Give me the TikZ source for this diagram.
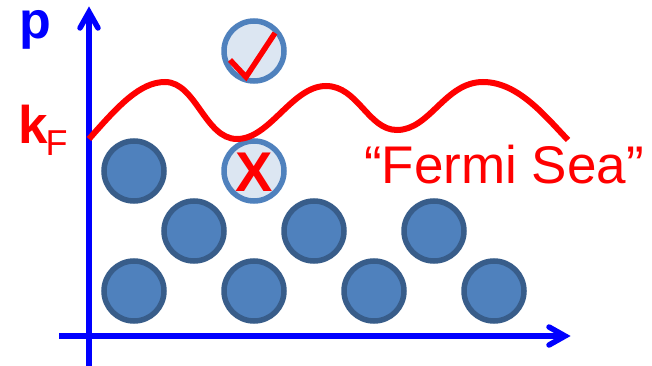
\documentclass[tikz,border=0pt]{standalone}
\usepackage{fontspec}
\setmainfont{Liberation Sans}
\definecolor{fillblue}{HTML}{4F81BD}
\definecolor{edgedark}{HTML}{385D8A}
\definecolor{paleblue}{HTML}{DCE6F2}
\definecolor{axisblue}{HTML}{0000FF}
\definecolor{seared}{HTML}{FF0000}
\tikzset{
  particle/.style={circle,draw=edgedark,fill=fillblue,line width=5.5pt,minimum size=60pt,inner sep=0pt},
  hole/.style={circle,draw=fillblue,fill=paleblue,line width=5.5pt,minimum size=60pt,inner sep=0pt},
  axisline/.style={draw=axisblue,line width=5.5pt},
  axistip/.style={draw=axisblue,line width=5.5pt,line cap=round,line join=miter},
  seaedge/.style={draw=seared,line width=6pt},
  lbl/.style={inner sep=0pt,outer sep=0pt},
}
\begin{document}
\begin{tikzpicture}[x=1pt,y=-1pt]
\useasboundingbox (0,0) rectangle (652,366);
\foreach \n/\x/\y in {a/134/291,b/254/291,c/374/291,d/494/291,e/194/231,f/314/231,g/434/231,h/134/171}
  \node[particle] (\n) at (\x,\y) {};
\node[hole] (empty) at (254,171) {};
\node[hole] (excited) at (254,51) {};
% axes
\coordinate (ybot) at (89,366);
\coordinate (ytop) at (89,12);
\coordinate (xleft) at (59,336);
\coordinate (xright) at (565,336);
\draw[axisline] (ybot) -- (ytop);
\draw[axisline] (xleft) -- (xright);
\coordinate (ytipl) at (80,28);
\coordinate (ytipr) at (98,28);
\coordinate (xtipu) at (549,327);
\coordinate (xtipd) at (549,345);
\draw[axistip] (ytipl) -- (ytop) -- (ytipr);
\draw[axistip] (xtipu) -- (xright) -- (xtipd);
% Fermi surface
\coordinate (s0) at (89,139);
\coordinate (s1) at (165,82);
\coordinate (s2) at (237,139);
\coordinate (s3) at (326,86);
\coordinate (s4) at (397,130);
\coordinate (s5) at (483,82);
\coordinate (s6) at (568,140);
\draw[seaedge] (s0) .. controls (118,106) and (140,82) .. (s1)
  .. controls (196,82) and (205,139) .. (s2)
  .. controls (270,139) and (292,86) .. (s3)
  .. controls (358,86) and (368,130) .. (s4)
  .. controls (430,130) and (445,82) .. (s5)
  .. controls (518,82) and (545,116) .. (s6);
% check mark
\coordinate (c1) at (230,60);
\coordinate (c2) at (246,77);
\coordinate (c3) at (275,33);
\draw[seared,line width=5.5pt] (c1) -- (c2) -- (c3);
% labels
\node[lbl,anchor=base west,text=axisblue] (plabel) at (19,39) {\fontsize{52}{52}\selectfont\bfseries p};
\node[lbl,anchor=base west,text=seared] (klabel) at (18,143) {\fontsize{53}{53}\selectfont\bfseries k};
\node[lbl,anchor=base west,text=seared] (flabel) at (45.5,156) {\fontsize{36}{36}\selectfont F};
\node[lbl,anchor=base,text=seared] (xmark) at (254,191) {\fontsize{56}{56}\selectfont\bfseries X};
\node[lbl,anchor=base,text=seared] (sea) at (504,183) {\fontsize{53}{53}\selectfont “Fermi Sea”};
\end{tikzpicture}
\end{document}
